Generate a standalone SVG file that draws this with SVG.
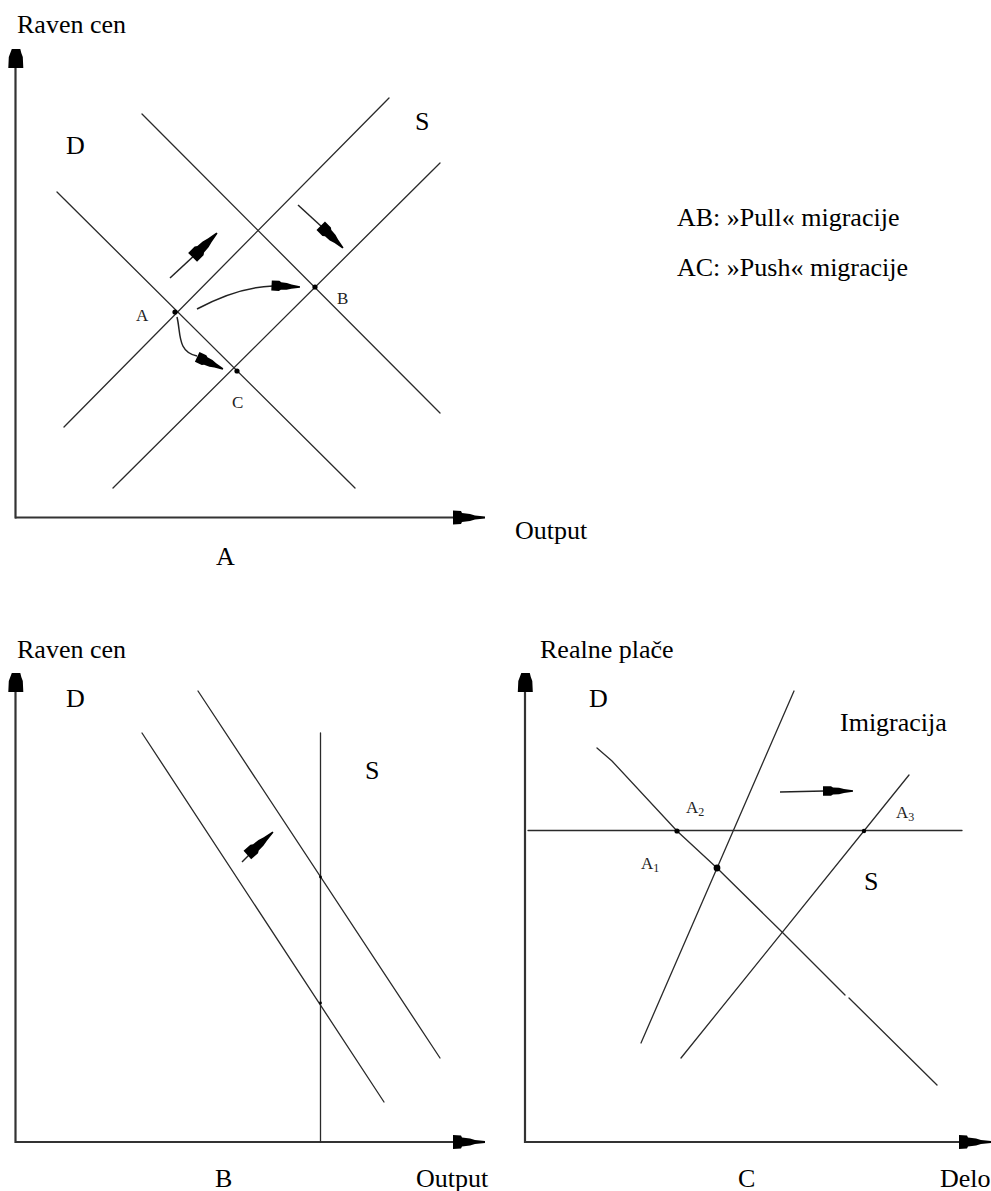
<svg xmlns="http://www.w3.org/2000/svg" xmlns:xlink="http://www.w3.org/1999/xlink" width="991" height="1191" viewBox="0 0 991 1191">
<style>
.t{font-family:"Liberation Serif","Times New Roman",serif;font-size:26px;fill:#000}
.s{font-family:"Liberation Serif","Times New Roman",serif;font-size:17px;fill:#222}
.ax{stroke:#333;stroke-width:2.2;fill:none}
.ln{stroke:#2a2a2a;stroke-width:1.3;fill:none;stroke-linecap:round}
.ar{stroke:#222;stroke-width:1.5;fill:none}
.hd{fill:#000}
.dot{fill:#000}
</style>
<defs>
<path id="axR" d="M0,-1 L-10,-2 L-15,-3.5 L-23,-4.5 L-24,-6.5 L-32,-7 L-32,7 L-24,6.5 L-23,4.5 L-15,3.5 L-10,2 L0,1 Z"/>
<path id="axU" d="M-4,0 L4.5,0 L5.5,4 L7,8 L7.5,19 L-7.5,19 L-7,8 L-5.5,4 Z"/>
<path id="sh" d="M0,-0.8 L-9,-2.5 L-14,-4 L-20,-4.5 L-22,-6 L-30,-6 L-30,6 L-22,6 L-20,4.5 L-14,4 L-9,2.5 L0,0.8 Z"/>
</defs>

<g id="panelA">
  <g id="axesA">
    <line class="ax" x1="15.5" y1="66" x2="15.5" y2="518.5"/>
    <line class="ax" x1="15" y1="517.5" x2="455" y2="517.5"/>
    <use href="#axU" x="15.8" y="49" class="hd"/>
    <use href="#axR" x="485" y="517.5" class="hd"/>
  </g>
  <g id="curvesA">
    <line class="ln" x1="57" y1="192" x2="355" y2="488"/>
    <line class="ln" x1="142" y1="114" x2="440" y2="413"/>
    <line class="ln" x1="64" y1="427" x2="389" y2="98"/>
    <line class="ln" x1="113" y1="488" x2="440" y2="163"/>
  </g>
  <g id="pointsA">
    <circle class="dot" cx="175" cy="312" r="2.6"/>
    <circle class="dot" cx="315" cy="287" r="2.6"/>
    <circle class="dot" cx="237" cy="371" r="2.6"/>
  </g>
  <g id="labelsA">
    <text class="t" x="17" y="33">Raven cen</text>
    <text class="t" x="66" y="154">D</text>
    <text class="t" x="415" y="130">S</text>
    <text class="s" x="136" y="321">A</text>
    <text class="s" x="337" y="304">B</text>
    <text class="s" x="232" y="408">C</text>
    <text class="t" x="515" y="539">Output</text>
    <text class="t" x="216" y="565">A</text>
    <text class="t" x="677" y="226">AB: »Pull« migracije</text>
    <text class="t" x="677" y="276">AC: »Push« migracije</text>
  </g>
</g>

<g id="panelB">
  <g id="axesB">
    <line class="ax" x1="15.5" y1="690" x2="15.5" y2="1143"/>
    <line class="ax" x1="15" y1="1142" x2="455" y2="1142"/>
    <use href="#axU" x="15.8" y="673" class="hd"/>
    <use href="#axR" x="485" y="1142" class="hd"/>
  </g>
  <g id="curvesB">
    <line class="ln" x1="142" y1="733" x2="384" y2="1102"/>
    <line class="ln" x1="198" y1="691" x2="440" y2="1058"/>
    <line class="ln" x1="320.5" y1="733" x2="320.5" y2="1142"/>
    <circle class="dot" cx="320.5" cy="877" r="1.4"/>
    <circle class="dot" cx="320.5" cy="1003" r="1.4"/>
  </g>
  <g id="labelsB">
    <text class="t" x="17" y="658">Raven cen</text>
    <text class="t" x="66" y="707">D</text>
    <text class="t" x="365" y="779">S</text>
    <text class="t" x="215" y="1187">B</text>
    <text class="t" x="416" y="1187">Output</text>
  </g>
</g>

<g id="panelC">
  <g id="axesC">
    <line class="ax" x1="525" y1="690" x2="525" y2="1143"/>
    <line class="ax" x1="525" y1="1142" x2="962" y2="1142"/>
    <use href="#axU" x="525.3" y="673" class="hd"/>
    <use href="#axR" x="991" y="1142" class="hd"/>
  </g>
  <g id="curvesC">
    <line class="ln" x1="528" y1="830.5" x2="962" y2="830.5"/>
    <polyline class="ln" points="597,748 612,761 677,831 717,868 782,932 845,995"/>
    <line class="ln" x1="849" y1="998" x2="937" y2="1085"/>
    <line class="ln" x1="794" y1="691" x2="641" y2="1043"/>
    <line class="ln" x1="909" y1="775" x2="681" y2="1058"/>
  </g>
  <g id="pointsC">
    <circle class="dot" cx="677" cy="831" r="2.6"/>
    <circle class="dot" cx="717" cy="868" r="3.4"/>
    <circle class="dot" cx="864" cy="831" r="2.2"/>
  </g>
  <g id="labelsC">
    <text class="t" x="540" y="658">Realne plače</text>
    <text class="t" x="589" y="707">D</text>
    <text class="t" x="840" y="731">Imigracija</text>
    <text class="t" x="864" y="890">S</text>
    <text class="s" x="686" y="813">A<tspan font-size="12" dy="3">2</tspan></text>
    <text class="s" x="641" y="869">A<tspan font-size="12" dy="3">1</tspan></text>
    <text class="s" x="896" y="818">A<tspan font-size="12" dy="3">3</tspan></text>
    <text class="t" x="738" y="1187">C</text>
    <text class="t" x="940" y="1187">Delo</text>
  </g>
</g>

<g id="connectors">
  <line class="ar" x1="170" y1="278" x2="197" y2="253"/>
  <use href="#sh" class="hd" transform="translate(217,233) rotate(-45) scale(1.15,1.05)"/>
  <line class="ar" x1="298" y1="205" x2="322" y2="227"/>
  <use href="#sh" class="hd" transform="translate(343,248) rotate(45) scale(1.05,1)"/>
  <path class="ar" d="M197,309 Q238,287 273,286"/>
  <use href="#sh" class="hd" transform="translate(300,287) rotate(3) scale(0.95,0.85)"/>
  <path class="ar" d="M177,317 C181,333 177,352 197,356"/>
  <use href="#sh" class="hd" transform="translate(223,369) rotate(25) scale(0.95,0.9)"/>
  <line class="ar" x1="242" y1="862" x2="252" y2="852"/>
  <use href="#sh" class="hd" transform="translate(273,832) rotate(-42) scale(1.15,0.95)"/>
  <line class="ar" x1="780" y1="792" x2="824" y2="791"/>
  <use href="#sh" class="hd" transform="translate(853,791) rotate(0) scale(1,0.8)"/>
</g>
</svg>
